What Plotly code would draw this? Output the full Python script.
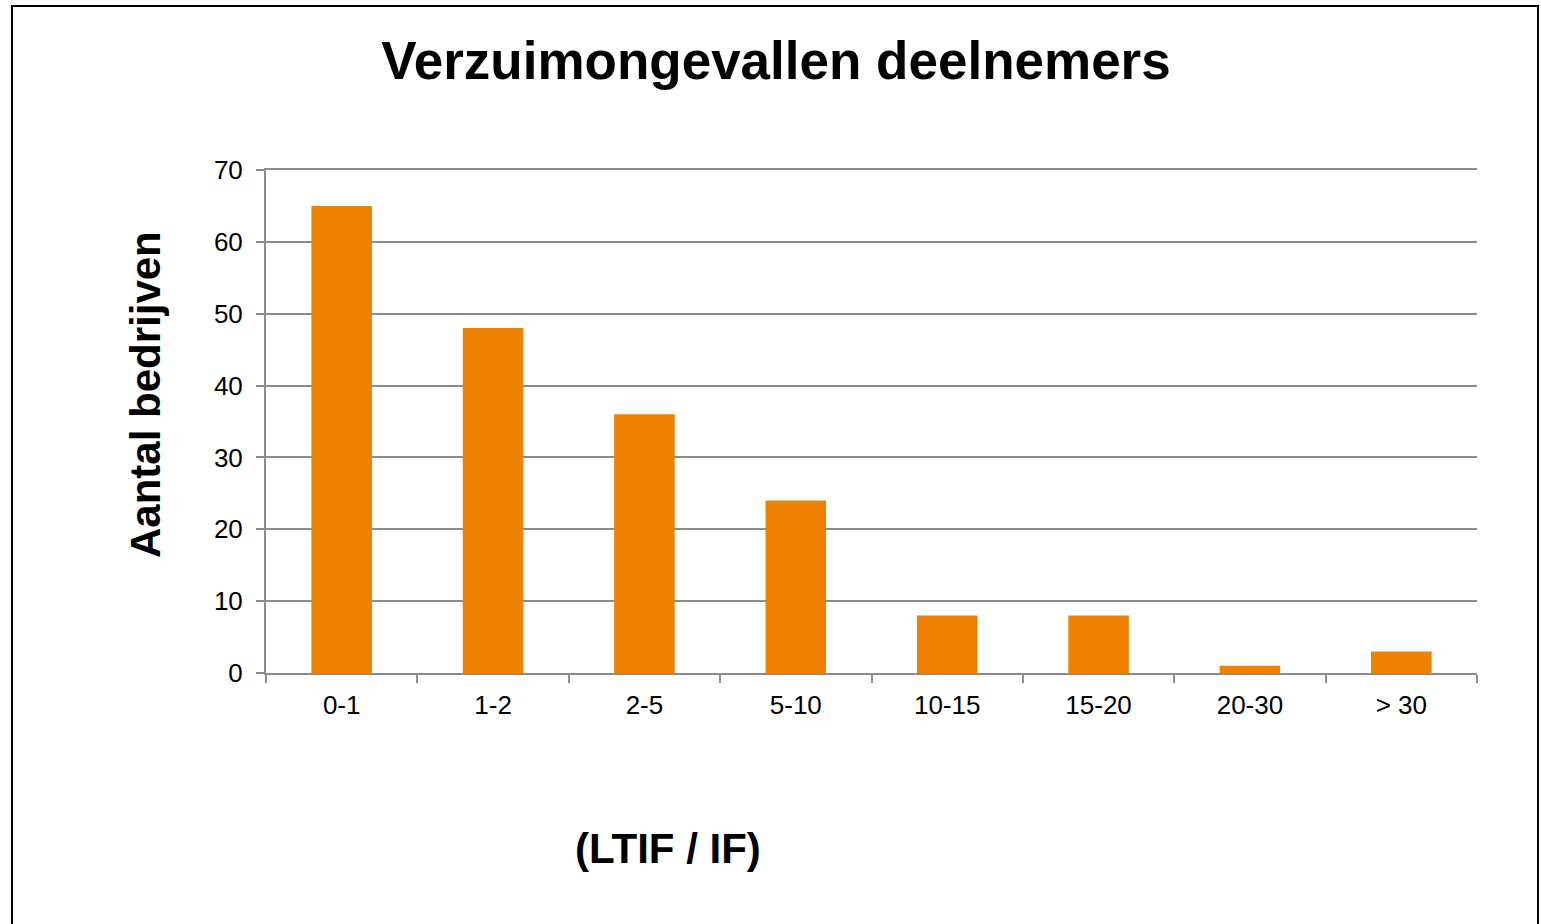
import plotly.graph_objects as go

categories = ["0-1", "1-2", "2-5", "5-10", "10-15", "15-20", "20-30", "> 30"]
values = [65, 48, 36, 24, 8, 8, 1, 3]
y_ticks = [0, 10, 20, 30, 40, 50, 60, 70]

W, H = 1541, 924
L, T = 266, 170
R = W - 1477
B = H - 673
pw, ph = W - L - R, H - T - B

def px_x(px):
    return (px - L) / pw

def px_y(py):
    return (H - B - py) / ph

fig = go.Figure(go.Bar(
    x=categories, y=values,
    marker=dict(color="#EE8200", line=dict(width=0)),
))

grid = "#8C8C8C"
fig.update_layout(
    width=W, height=H,
    margin=dict(l=L, r=R, t=T, b=B),
    plot_bgcolor="white", paper_bgcolor="white",
    bargap=0.6,
    showlegend=False,
    font=dict(family="Liberation Sans, Arial, sans-serif", color="black"),
    title=dict(
        text="<b>Verzuimongevallen deelnemers</b>",
        x=776 / W, xanchor="center",
        y=1 - 60 / H, yanchor="middle", yref="container",
        font=dict(size=53, family="Liberation Sans, Arial, sans-serif", color="black"),
    ),
    xaxis=dict(
        type="category",
        showline=True, linecolor=grid, linewidth=2, mirror=True,
        ticks="outside", tickson="boundaries", ticklen=8, tickcolor=grid, tickwidth=2,
        tickfont=dict(size=26),
        ticklabelstandoff=8,
        showgrid=False,
    ),
    yaxis=dict(
        range=[0, 70],
        tickvals=y_ticks,
        showline=True, linecolor=grid, linewidth=2,
        ticks="outside", ticklen=8, tickcolor=grid, tickwidth=2,
        tickfont=dict(size=26),
        ticklabelstandoff=8,
        showgrid=True, gridcolor=grid, gridwidth=1.5,
        zeroline=False,
    ),
    annotations=[
        dict(text="<b>Aantal bedrijven</b>", textangle=-90,
             x=px_x(145), y=px_y(395), xref="paper", yref="paper",
             xanchor="center", yanchor="middle", showarrow=False,
             font=dict(size=42, color="black")),
        dict(text="<b>(LTIF / IF)</b>",
             x=px_x(668), y=px_y(848), xref="paper", yref="paper",
             xanchor="center", yanchor="middle", showarrow=False,
             font=dict(size=42, color="black")),
    ],
    shapes=[
        dict(type="rect", xref="paper", yref="paper",
             x0=px_x(12), x1=px_x(1538), y0=px_y(940), y1=px_y(6),
             line=dict(color="black", width=2), fillcolor="rgba(0,0,0,0)", layer="below"),
    ],
)

fig.write_html(
    "out.html",
    config={"displayModeBar": False},
    post_script="document.body.style.margin='0';"
                "document.body.style.overflow='hidden';"
                "document.documentElement.style.overflow='hidden';",
)
